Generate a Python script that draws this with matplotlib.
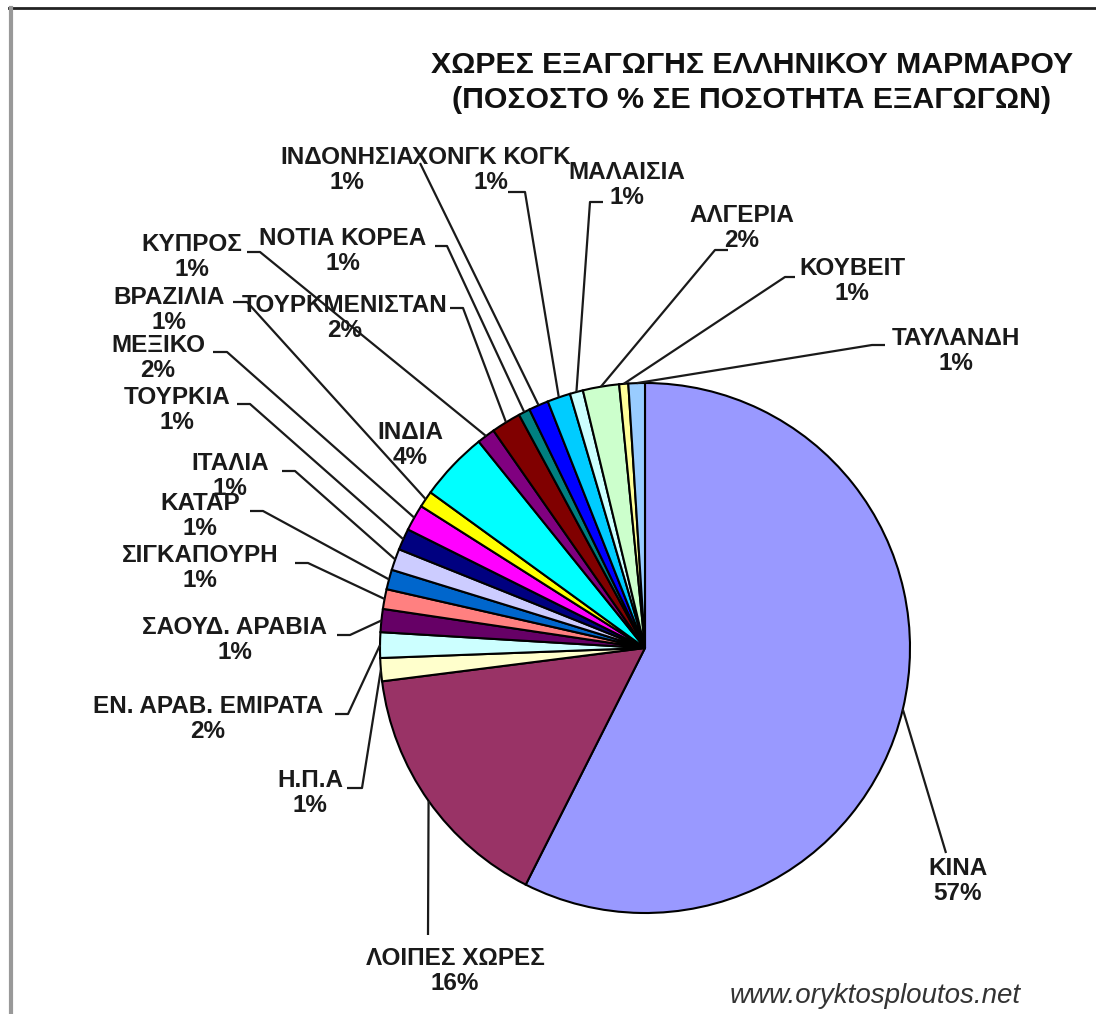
import numpy as np
import matplotlib
matplotlib.use("Agg")
import matplotlib.pyplot as plt

plt.rcParams['font.family'] = ['Liberation Sans', 'DejaVu Sans']

W, H = 1096, 1014

# data (clockwise from 12 o'clock)
countries = ['ΚΙΝΑ', 'ΛΟΙΠΕΣ ΧΩΡΕΣ', 'Η.Π.Α', 'ΕΝ. ΑΡΑΒ. ΕΜΙΡΑΤΑ', 'ΣΑΟΥΔ. ΑΡΑΒΙΑ',
             'ΣΙΓΚΑΠΟΥΡΗ', 'ΚΑΤΑΡ', 'ΙΤΑΛΙΑ', 'ΤΟΥΡΚΙΑ', 'ΜΕΞΙΚΟ', 'ΒΡΑΖΙΛΙΑ', 'ΙΝΔΙΑ',
             'ΚΥΠΡΟΣ', 'ΤΟΥΡΚΜΕΝΙΣΤΑΝ', 'ΝΟΤΙΑ ΚΟΡΕΑ', 'ΙΝΔΟΝΗΣΙΑ', 'ΧΟΝΓΚ ΚΟΓΚ',
             'ΜΑΛΑΙΣΙΑ', 'ΑΛΓΕΡΙΑ', 'ΚΟΥΒΕΙΤ', 'ΤΑΥΛΑΝΔΗ']
shares = [57.2, 15.5, 1.4, 1.55, 1.4, 1.2, 1.2, 1.3, 1.3, 1.6, 1.0, 4.2,
          1.1, 1.8, 0.7, 1.2, 1.4, 0.8, 2.2, 0.55, 1.0]
colors = ['#9999FF', '#993366', '#FFFFCC', '#CCFFFF', '#660066', '#FF8080', '#0066CC',
          '#CCCCFF', '#000080', '#FF00FF', '#FFFF00', '#00FFFF', '#800080', '#800000',
          '#008080', '#0000FF', '#00CCFF', '#CCFFFF', '#CCFFCC', '#FFFF99', '#99CCFF']

# label layout in pixels (y down): text x, name-line y, leader anchor x, y, tick
label_pos = [
    (958, 868, 946, 853, 0),
    (455, 958, 428, 935, 0),
    (310, 780, 347, 788, 15),
    (208, 706, 335, 714, 13),
    (235, 627, 337, 635, 13),
    (200, 555, 295, 563, 13),
    (200, 503, 250, 511, 13),
    (230, 463, 282, 471, 13),
    (177, 397, 237, 404, 13),
    (158, 345, 213, 352, 14),
    (169, 297, 233, 302, 14),
    (410, 432, None, None, 0),
    (192, 244, 247, 252, 13),
    (345, 305, 450, 308, 13),
    (343, 238, 435, 246, 12),
    (347, 157, 420, 163, 0),
    (491, 157, 508, 192, 17),
    (627, 172, 603, 202, -13),
    (742, 215, 728, 250, -13),
    (852, 268, 795, 277, -10),
    (956, 338, 885, 345, -13),
]

cx, cy, r = 645, H - 648, 265


def Y(y):
    return H - y


fig = plt.figure(figsize=(W / 100, H / 100), dpi=100)
ax = fig.add_axes([0, 0, 1, 1])

wedges, _ = ax.pie(shares, colors=colors, startangle=90, counterclock=False,
                   center=(cx, cy), radius=r, frame=False,
                   wedgeprops=dict(edgecolor='black', linewidth=1.5))

total = sum(shares)
for w, name, v, (tx, ty, lx, ly, tick) in zip(wedges, countries, shares, label_pos):
    pct = f"{round(v / total * 100)}%"
    ax.text(tx, Y(ty + 13), f"{name}\n{pct}", ha='center', va='center',
            fontsize=17.5, fontweight='bold', color='#1a1a1a', linespacing=1.1)
    if lx is None:
        continue
    mid = np.deg2rad((w.theta1 + w.theta2) / 2)
    rx, ry = cx + r * np.cos(mid), cy + r * np.sin(mid)
    xs = [rx, lx + tick, lx]
    ys = [ry, Y(ly), Y(ly)]
    ax.plot(xs, ys, color='#1a1a1a', lw=1.6, solid_capstyle='butt')

ax.text(752, Y(65), 'ΧΩΡΕΣ ΕΞΑΓΩΓΗΣ ΕΛΛΗΝΙΚΟΥ ΜΑΡΜΑΡΟΥ', ha='center', va='center',
        fontsize=21.8, fontweight='bold', color='#111')
ax.text(752, Y(100), '(ΠΟΣΟΣΤΟ % ΣΕ ΠΟΣΟΤΗΤΑ ΕΞΑΓΩΓΩΝ)', ha='center', va='center',
        fontsize=21.8, fontweight='bold', color='#111')
ax.text(875, Y(1003), 'www.oryktosploutos.net', ha='center', va='baseline',
        fontsize=20, style='italic', color='#333')

# frame
ax.plot([9, W], [Y(8), Y(8)], color='#222', lw=2)
ax.plot([11, 11], [Y(8), 0], color='#999', lw=3)

ax.set_xlim(0, W)
ax.set_ylim(0, H)
ax.set_aspect('equal')
ax.axis('off')

fig.savefig('out.png', dpi=100, facecolor='white')
